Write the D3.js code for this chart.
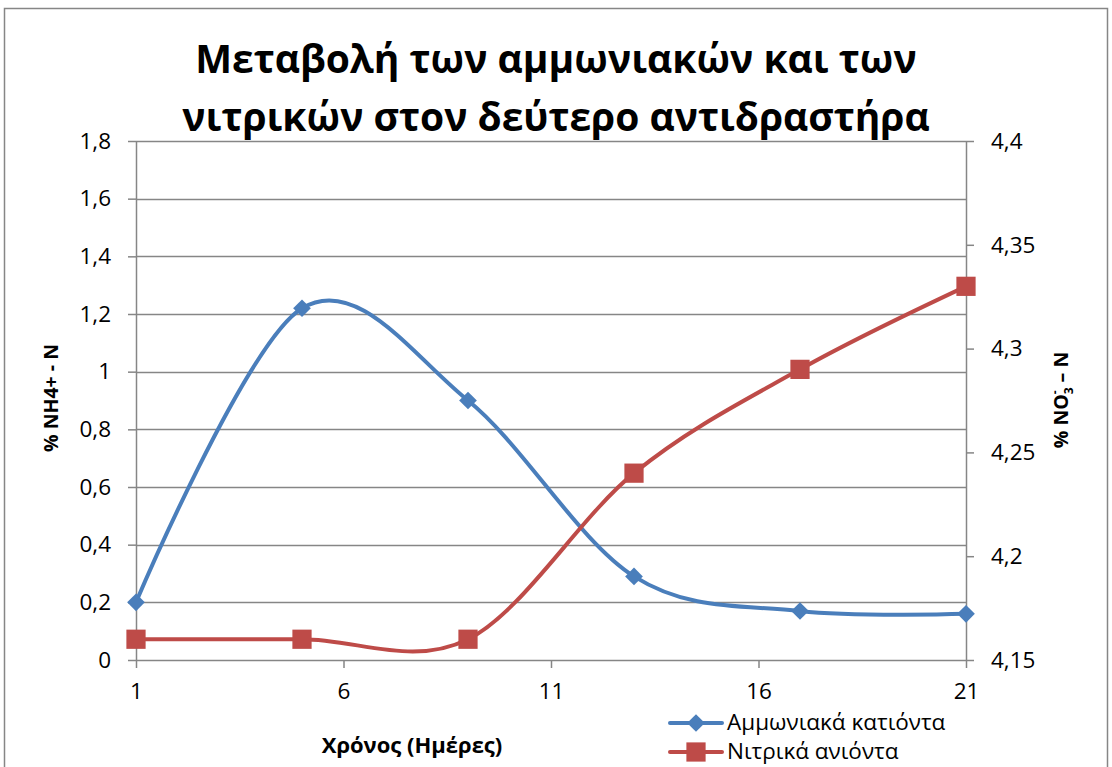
<!DOCTYPE html>
<html>
<head>
<meta charset="utf-8">
<script src="https://cdn.jsdelivr.net/npm/d3@7"></script>
<style>
  html, body { margin: 0; padding: 0; background: #fff; }
  svg { display: block; font-family: "Open Sans", "Noto Sans", sans-serif; }
</style>
</head>
<body>
<svg id="chart" width="1112" height="767"></svg>
<script>
// Sampling days
const days = [1, 5, 9, 13, 17, 21];
// % NH4+ - N (left axis)
const ammonium = [0.2, 1.22, 0.9, 0.29, 0.17, 0.16];
// % NO3- - N (right axis)
const nitrate = [4.16, 4.16, 4.16, 4.24, 4.29, 4.33];

const xTicks = [1, 6, 11, 16, 21];
const leftTicks = [0, 0.2, 0.4, 0.6, 0.8, 1, 1.2, 1.4, 1.6, 1.8];
const rightTicks = [4.15, 4.2, 4.25, 4.3, 4.35, 4.4];

const titleLines = ["Μεταβολή των αμμωνιακών και των", "νιτρικών στον δεύτερο αντιδραστήρα"];
const seriesNames = ["Αμμωνιακά κατιόντα", "Νιτρικά ανιόντα"];
const xTitle = "Χρόνος (Ημέρες)";

const blue = "#4a7ebb";
const red = "#be4b48";
const grid = "#868686";

const svg = d3.select("#chart");
const plot = { left: 136, right: 966, top: 141, bottom: 660 };

const x = d3.scaleLinear().domain([1, 21]).range([plot.left, plot.right]);
const yL = d3.scaleLinear().domain([0, 1.8]).range([plot.bottom, plot.top]);
const yR = d3.scaleLinear().domain([4.15, 4.4]).range([plot.bottom, plot.top]);

const comma = d => String(+d.toFixed(2)).replace(".", ",");

// chart frame
svg.append("rect")
  .attr("x", 4.5).attr("y", 8.5).attr("width", 1103).attr("height", 800)
  .attr("fill", "none").attr("stroke", grid).attr("stroke-width", 1.5);

// title
svg.append("g").selectAll("text").data(titleLines).join("text")
  .attr("x", 556).attr("y", (d, i) => 73 + i * 58)
  .attr("text-anchor", "middle")
  .attr("font-size", 39).attr("font-weight", "bold").attr("fill", "#000")
  .text(d => d);

// horizontal gridlines
svg.append("g").selectAll("line").data(leftTicks.slice(1)).join("line")
  .attr("x1", plot.left).attr("x2", plot.right)
  .attr("y1", d => Math.round(yL(d)) + 0.5).attr("y2", d => Math.round(yL(d)) + 0.5)
  .attr("stroke", grid).attr("stroke-width", 1.5);

function styleAxis(g) {
  g.selectAll(".domain").attr("stroke", grid).attr("stroke-width", 1.5);
  g.selectAll(".tick line").attr("stroke", grid).attr("stroke-width", 1.5);
  g.selectAll(".tick text").attr("fill", "#000").attr("font-size", 22.5)
    .attr("font-family", "'Open Sans', 'Noto Sans', sans-serif");
}

// left axis
svg.append("g").attr("transform", `translate(${plot.left},0)`)
  .call(d3.axisLeft(yL).tickValues(leftTicks).tickFormat(comma).tickSize(8).tickSizeOuter(0).tickPadding(17))
  .call(styleAxis);

// right axis
svg.append("g").attr("transform", `translate(${plot.right},0)`)
  .call(d3.axisRight(yR).tickValues(rightTicks).tickFormat(comma).tickSize(8).tickSizeOuter(0).tickPadding(17))
  .call(styleAxis);

// bottom axis
svg.append("g").attr("transform", `translate(0,${plot.bottom})`)
  .call(d3.axisBottom(x).tickValues(xTicks).tickFormat(d3.format("d")).tickSize(8).tickSizeOuter(0).tickPadding(15))
  .call(styleAxis);

// axis titles
svg.append("text")
  .attr("transform", "translate(58,398) rotate(-90)")
  .attr("text-anchor", "middle").attr("font-size", 19.5).attr("font-weight", "bold")
  .text("% NH4+ - N");

const rt = svg.append("text")
  .attr("transform", "translate(1068,400) rotate(-90)")
  .attr("text-anchor", "middle").attr("font-size", 19.5).attr("font-weight", "bold");
rt.append("tspan").text("% NO");
rt.append("tspan").attr("font-size", 12).attr("dy", 5).text("3");
rt.append("tspan").attr("font-size", 12).attr("dx", -7).attr("dy", -14).text("-");
rt.append("tspan").attr("dx", 3).attr("dy", 9).text(" – N");

svg.append("text")
  .attr("x", 412).attr("y", 753)
  .attr("text-anchor", "middle").attr("font-size", 22).attr("font-weight", "bold")
  .text(xTitle);

// smoothed series lines
const curve = d3.curveCatmullRom.alpha(0);
const lineL = d3.line().x(d => x(d[0])).y(d => yL(d[1])).curve(curve);
const lineR = d3.line().x(d => x(d[0])).y(d => yR(d[1])).curve(curve);

const ammData = days.map((d, i) => [d, ammonium[i]]);
const nitData = days.map((d, i) => [d, nitrate[i]]);

svg.append("path").datum(ammData).attr("d", lineL)
  .attr("fill", "none").attr("stroke", blue).attr("stroke-width", 4).attr("stroke-linecap", "round");
svg.append("path").datum(nitData).attr("d", lineR)
  .attr("fill", "none").attr("stroke", red).attr("stroke-width", 4).attr("stroke-linecap", "round");

const diamond = d3.symbol().type(d3.symbolDiamond2).size(200);
const square = d3.symbol().type(d3.symbolSquare).size(370);

svg.append("g").selectAll("path").data(ammData).join("path")
  .attr("transform", d => `translate(${x(d[0])},${yL(d[1])})`)
  .attr("d", diamond).attr("fill", blue);

svg.append("g").selectAll("path").data(nitData).join("path")
  .attr("transform", d => `translate(${x(d[0])},${yR(d[1])})`)
  .attr("d", square).attr("fill", red);

// legend
const legend = svg.append("g");
const rows = [
  { name: seriesNames[0], color: blue, sym: diamond },
  { name: seriesNames[1], color: red, sym: square }
];
const lg = legend.selectAll("g").data(rows).join("g")
  .attr("transform", (d, i) => `translate(668,${723 + i * 29})`);
lg.append("line").attr("x1", 2).attr("x2", 54).attr("y1", 0).attr("y2", 0)
  .attr("stroke", d => d.color).attr("stroke-width", 4).attr("stroke-linecap", "round");
lg.append("path").attr("d", d => d.sym()).attr("transform", "translate(28,0)").attr("fill", d => d.color);
lg.append("text").attr("x", 59).attr("y", 7).attr("font-size", 22.5).text(d => d.name);
</script>
</body>
</html>
